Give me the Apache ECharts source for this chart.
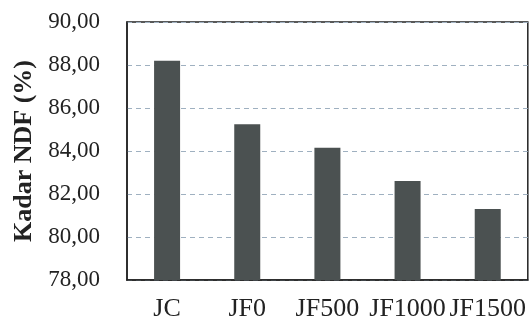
<!DOCTYPE html>
<html><head><meta charset="utf-8">
<script src="https://cdn.jsdelivr.net/npm/echarts@6/dist/echarts.min.js"></script>
<style>html,body{margin:0;padding:0;background:#fff}#c{width:529px;height:329px}</style>
</head><body><div id="c"></div>
<script>
var categories = ['JC', 'JF0', 'JF500', 'JF1000', 'JF1500'];
var ndfValues = [88.2, 85.25, 84.15, 82.6, 81.3];
var yTitle = 'Kadar NDF (%)';
var FONT = '"Liberation Serif", "Times New Roman", Times, serif';

var chart = echarts.init(document.getElementById('c'));
chart.setOption({
  animation: false,
  grid: {left: 127, right: 1, top: 22, bottom: 49, show: true, borderColor: '#222', borderWidth: 1.5},
  xAxis: {
    type: 'category', data: categories,
    axisLine: {show: true, lineStyle: {color: '#222', width: 1.5}},
    axisTick: {show: false},
    axisLabel: {color: '#222', fontFamily: FONT, fontSize: 26, margin: 16, interval: 0}
  },
  yAxis: {
    type: 'value', min: 78, max: 90, interval: 2,
    name: yTitle, nameLocation: 'middle', nameGap: 89,
    nameTextStyle: {color: '#222', fontFamily: FONT, fontWeight: 'bold', fontSize: 26},
    axisLine: {show: true, lineStyle: {color: '#222', width: 1.5}},
    axisTick: {show: false},
    axisLabel: {color: '#222', fontFamily: FONT, fontSize: 23, margin: 27,
      formatter: function (v) { return v.toFixed(2).replace('.', ','); }},
    splitLine: {show: true, lineStyle: {color: '#9fb0c0', type: [5, 4], width: 1}}
  },
  series: [{
    type: 'bar', data: ndfValues, barWidth: 26,
    itemStyle: {color: '#4b5151'}
  }]
});
</script></body></html>
